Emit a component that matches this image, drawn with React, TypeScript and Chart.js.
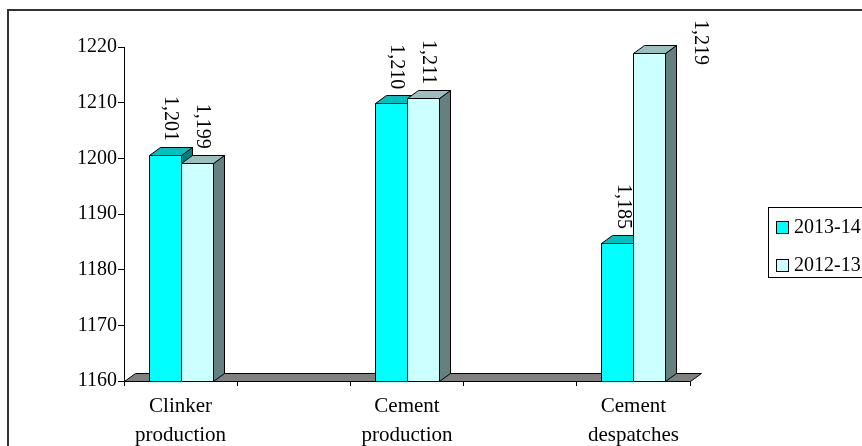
import React, { useEffect, useRef } from "react";
import { Chart, registerables } from "chart.js";

Chart.register(...registerables);

// ---- data ----
const categories: (string | string[])[] = [
  ["Clinker", "production"],
  "",
  ["Cement", "production"],
  "",
  ["Cement", "despatches"],
];
const seriesNames = ["2013-14", "2012-13"];
const values2013_14: (number | null)[] = [1200.6, null, 1209.9, null, 1184.8];
const values2012_13: (number | null)[] = [1199.2, null, 1210.8, null, 1219.0];
const yTicksMin = 1160;
const yTicksMax = 1220;
const yTickStep = 10;

// ---- styles ----
const frontColors = ["#00FFFF", "#CCFFFF"];
const topColors = ["#00BFBF", "#99BFBF"];
const sideColors = ["#008080", "#668080"];
const floorColor = "#808080";
const FONT = "'Liberation Serif', 'Times New Roman', serif";
const DX = 11;
const DY = 8;

const fmt = (v: number) =>
  v.toLocaleString("en-US", { maximumFractionDigits: 0 });

const px = (v: number) => Math.round(v) + 0.5;

function poly(ctx: CanvasRenderingContext2D, pts: number[][], fill: string) {
  ctx.beginPath();
  ctx.moveTo(px(pts[0][0]), px(pts[0][1]));
  for (let i = 1; i < pts.length; i++) ctx.lineTo(px(pts[i][0]), px(pts[i][1]));
  ctx.closePath();
  ctx.fillStyle = fill;
  ctx.fill();
  ctx.stroke();
}

const threeD = {
  id: "threeD",
  beforeDatasetsDraw(chart: any) {
    const ctx: CanvasRenderingContext2D = chart.ctx;
    const { left, right } = chart.chartArea;
    const yb = chart.scales.y.getPixelForValue(yTicksMin);
    ctx.save();
    ctx.lineWidth = 1;
    ctx.strokeStyle = "#000";
    poly(
      ctx,
      [
        [left, yb],
        [right, yb],
        [right + DX, yb - DY],
        [left + DX, yb - DY],
      ],
      floorColor
    );
    const n = chart.data.labels.length;
    for (let i = 0; i < n; i++) {
      chart.data.datasets.forEach((ds: any, d: number) => {
        const v = ds.data[i];
        if (v == null) return;
        const el = chart.getDatasetMeta(d).data[i];
        if (!el) return;
        const { x, y, width } = el.getProps(["x", "y", "width"], true);
        const base = yb;
        const l = x - width / 2;
        const r = x + width / 2;
        poly(ctx, [[r, base], [r + DX, base - DY], [r + DX, y - DY], [r, y]], sideColors[d]);
        poly(ctx, [[l, y], [l + DX, y - DY], [r + DX, y - DY], [r, y]], topColors[d]);
        poly(ctx, [[l, y], [r, y], [r, base], [l, base]], frontColors[d]);
      });
    }
    ctx.restore();
    return false;
  },
  afterDraw(chart: any) {
    const ctx: CanvasRenderingContext2D = chart.ctx;
    const area = chart.chartArea;
    ctx.save();
    // data labels
    ctx.font = `20px ${FONT}`;
    ctx.fillStyle = "#000";
    chart.data.datasets.forEach((ds: any, d: number) => {
      const meta = chart.getDatasetMeta(d);
      ds.data.forEach((v: number | null, i: number) => {
        if (v == null) return;
        const el = meta.data[i];
        const { x, y, width } = el.getProps(["x", "y", "width"], true);
        const text = fmt(v);
        const w = ctx.measureText(text).width;
        let cx = x + DX / 2;
        let yEnd = y - DY - 6;
        if (yEnd - w < 15) {
          cx = x + width / 2 + DX + 24;
          yEnd = area.top - 27 + w;
        }
        ctx.save();
        ctx.translate(cx, yEnd);
        ctx.rotate(Math.PI / 2);
        ctx.textAlign = "right";
        ctx.textBaseline = "middle";
        ctx.fillText(text, 0, 0);
        ctx.restore();
      });
    });
    // legend
    const lx = Math.round(area.right + 78);
    const ly = Math.round(area.top + 160);
    ctx.lineWidth = 1;
    ctx.strokeStyle = "#000";
    ctx.strokeRect(lx + 0.5, ly + 0.5, 200, 70);
    ctx.font = `20px ${FONT}`;
    ctx.textAlign = "left";
    ctx.textBaseline = "middle";
    chart.data.datasets.forEach((ds: any, d: number) => {
      const sy = ly + 14 + d * 38;
      ctx.fillStyle = ds.backgroundColor;
      ctx.fillRect(lx + 8, sy, 12, 12);
      ctx.strokeRect(lx + 8.5, sy + 0.5, 12, 12);
      ctx.fillStyle = "#000";
      ctx.fillText(ds.label, lx + 26, sy + 7);
    });
    ctx.restore();
  },
};

export default function App() {
  const ref = useRef<HTMLCanvasElement | null>(null);
  useEffect(() => {
    if (!ref.current) return;
    const chart = new Chart(ref.current, {
      type: "bar",
      data: {
        labels: categories as any,
        datasets: [
          {
            label: seriesNames[0],
            data: values2013_14,
            backgroundColor: frontColors[0],
            categoryPercentage: 0.565,
            barPercentage: 1,
          },
          {
            label: seriesNames[1],
            data: values2012_13,
            backgroundColor: frontColors[1],
            categoryPercentage: 0.565,
            barPercentage: 1,
          },
        ],
      },
      options: {
        animation: false,
        responsive: false,
        maintainAspectRatio: false,
        devicePixelRatio: 1,
        layout: { padding: { left: 0, top: 47, right: 210, bottom: 0 } },
        plugins: {
          legend: { display: false },
          tooltip: { enabled: false },
        },
        scales: {
          x: {
            offset: true,
            ticks: {
              color: "#000",
              font: { size: 21, family: FONT, lineHeight: 1.38 },
              padding: 6,
              maxRotation: 0,
              autoSkip: false,
            },
            grid: {
              offset: true,
              drawOnChartArea: false,
              drawTicks: true,
              tickLength: 5,
              color: "#000",
            },
            border: { display: true, color: "#000" },
            afterFit: (s: any) => {
              s.height = 89;
            },
          },
          y: {
            min: yTicksMin,
            max: yTicksMax,
            ticks: {
              stepSize: yTickStep,
              color: "#000",
              font: { size: 20, family: FONT },
              padding: 1,
              callback: (v: any) => String(v),
            },
            grid: {
              drawOnChartArea: false,
              drawTicks: true,
              tickLength: 6,
              color: "#000",
            },
            border: { display: true, color: "#000" },
            afterFit: (s: any) => {
              s.width = 124;
            },
          },
        },
      },
      plugins: [threeD],
    });
    return () => chart.destroy();
  }, []);

  return (
    <div
      style={{
        position: "fixed",
        left: 0,
        top: 0,
        width: 862,
        height: 446,
        overflow: "hidden",
        background: "#fff",
      }}
    >
      <canvas
        ref={ref}
        width={900}
        height={470}
        style={{ position: "absolute", left: 0, top: 0, width: 900, height: 470 }}
      />
      <div
        style={{
          position: "absolute",
          left: 7,
          top: 9,
          width: 920,
          height: 500,
          border: "2px solid #333",
          pointerEvents: "none",
        }}
      />
    </div>
  );
}
